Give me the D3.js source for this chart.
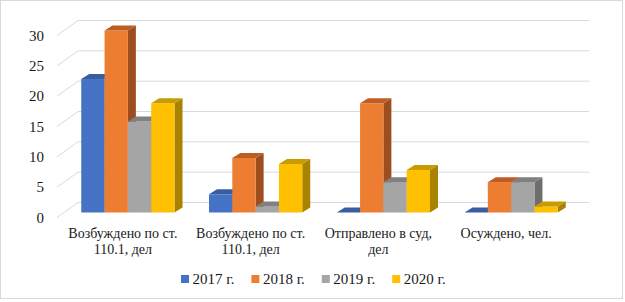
<!DOCTYPE html>
<html>
<head>
<meta charset="utf-8">
<script src="https://cdn.jsdelivr.net/npm/d3@7"></script>
<style>
  body { margin: 0; background: #fff; }
</style>
</head>
<body>
<script>
// data
var categories = [
  ["Возбуждено по ст.", "110.1, дел"],
  ["Возбуждено по ст.", "110.1, дел"],
  ["Отправлено в суд,", "дел"],
  ["Осуждено, чел."]
];
var seriesNames = ["2017 г.", "2018 г.", "2019 г.", "2020 г."];
var values2017 = [22, 3, 0, 0];
var values2018 = [30, 9, 18, 5];
var values2019 = [15, 1, 5, 5];
var values2020 = [18, 8, 7, 1];
var yTicks = [0, 5, 10, 15, 20, 25, 30];

var seriesValues = [values2017, values2018, values2019, values2020];
var front = ["#4472C4", "#ED7D31", "#A5A5A5", "#FFC000"];
var topC  = ["#3A5CA0", "#BE5C22", "#808080", "#C89B00"];
var sideC = ["#2F4D87", "#9E4D1E", "#6E6E6E", "#A88200"];

var font = "'Liberation Serif', 'DejaVu Serif', serif";

var w = 625, h = 302;
var svg = d3.select("body").append("svg").attr("width", w).attr("height", h);

// outer frame
svg.append("rect").attr("x", 0.5).attr("y", 0.5).attr("width", 622).attr("height", 298)
  .attr("fill", "#fff").attr("stroke", "#d9d9d9");

// bar-front plane
var base = 212.5;
var yScale = d3.scaleLinear().domain([0, 30]).range([base, 30.5]);
var idx = d3.range(categories.length);
var xScale = d3.scaleBand().domain(idx).range([64, 575]).paddingInner(0.27).paddingOuter(0.135);
var xInner = d3.scaleBand().domain(d3.range(seriesNames.length)).range([0, xScale.bandwidth()]);

// back wall offset and wall depth
var wallDx = 14, wallDy = -10;
var sideDx = -21, sideDy = 15;
var barDx = 8, barDy = -5;

function label(sel, fs){
  return sel.attr("font-family", font).style("font-family", font).style("font-size", fs).attr("fill", "#1a1a1a");
}

var grid = svg.append("g");
yTicks.forEach(function(t){
  var yb = yScale(t) + wallDy;
  var xl = xScale.range()[0] + wallDx, xr = xScale.range()[1] + wallDx;
  grid.append("line").attr("x1", xl).attr("x2", xr).attr("y1", yb).attr("y2", yb)
    .attr("stroke", "#d9d9d9").attr("stroke-width", 1);
  grid.append("line").attr("x1", xl).attr("y1", yb).attr("x2", xl + sideDx).attr("y2", yb + sideDy)
    .attr("stroke", "#d9d9d9").attr("stroke-width", 1);
  label(svg.append("text"), "15px").attr("x", 44).attr("y", yb + sideDy)
    .attr("text-anchor", "end").attr("dominant-baseline", "central").text(t);
});

// bars
var bars = svg.append("g");
idx.forEach(function(ci){
  seriesValues.forEach(function(vals, si){
    var x = xScale(ci) + xInner(si), bw = xInner.bandwidth();
    var y = yScale(vals[ci]);
    var g = bars.append("g");
    if (vals[ci] > 0) {
      g.append("path").attr("fill", sideC[si])
        .attr("d", "M" + (x + bw) + "," + y + "L" + (x + bw + barDx) + "," + (y + barDy) +
          "L" + (x + bw + barDx) + "," + (base + barDy) + "L" + (x + bw) + "," + base + "Z");
      g.append("rect").attr("x", x).attr("y", y).attr("width", bw).attr("height", base - y)
        .attr("fill", front[si]);
    }
    g.append("path").attr("fill", topC[si])
      .attr("d", "M" + x + "," + y + "L" + (x + barDx) + "," + (y + barDy) +
        "L" + (x + bw + barDx) + "," + (y + barDy) + "L" + (x + bw) + "," + y + "Z");
  });
});

// category labels
idx.forEach(function(ci){
  var cx = xScale(ci) + xScale.bandwidth() / 2 - 5;
  var t = label(svg.append("text"), "14px").attr("x", cx).attr("y", 233).attr("text-anchor", "middle");
  categories[ci].forEach(function(line, li){
    t.append("tspan").attr("x", cx).attr("dy", li === 0 ? "0.35em" : "16px").text(line);
  });
});

// legend
var lg = svg.append("g");
seriesNames.forEach(function(name, si){
  var lx = 181 + si * 70.4;
  lg.append("rect").attr("x", lx).attr("y", 275).attr("width", 8).attr("height", 8).attr("fill", front[si]);
  label(lg.append("text"), "15px").attr("x", lx + 11.5).attr("y", 279).attr("dominant-baseline", "central")
    .text(name);
});
</script>
</body>
</html>
